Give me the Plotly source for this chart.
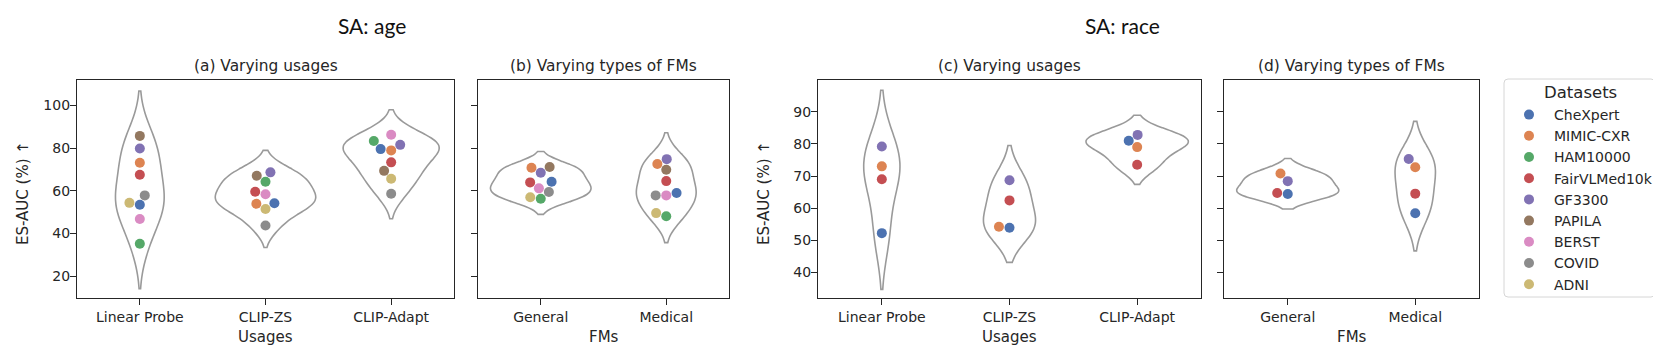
import numpy as np
import plotly.graph_objects as go

W, H = 1661, 364
OFF = 8  # the html page puts the plot 8px in from the top-left corner

datasets = ["CheXpert", "MIMIC-CXR", "HAM10000", "FairVLMed10k", "GF3300",
            "PAPILA", "BERST", "COVID", "ADNI"]
colors = ["#4C72B0", "#DD8452", "#55A868", "#C44E52", "#8172B3",
          "#937860", "#DA8BC3", "#8C8C8C", "#CCB974"]

usages = ["Linear Probe", "CLIP-ZS", "CLIP-Adapt"]
fm_types = ["General", "Medical"]

# SA: age (values follow the order of `datasets`)
age_linear_probe = [53.4, 73.1, 35.1, 67.5, 79.8, 85.7, 46.7, 57.8, 54.3]
age_clip_zs = [54.1, 53.9, 64.2, 59.5, 68.6, 67.0, 58.3, 43.7, 51.4]
age_clip_adapt = [79.5, 78.9, 83.3, 73.3, 81.5, 69.3, 86.2, 58.6, 65.6]
age_general = [64.2, 70.8, 56.2, 63.9, 68.4, 71.1, 61.1, 59.4, 56.9]
age_medical = [58.9, 72.5, 48.0, 64.5, 74.8, 69.8, 57.8, 57.8, 49.5]

# SA: race
race_datasets = ["CheXpert", "MIMIC-CXR", "FairVLMed10k", "GF3300"]
race_linear_probe = [52.2, 73.0, 69.0, 79.2]
race_clip_zs = [53.9, 54.2, 62.4, 68.7]
race_clip_adapt = [81.0, 79.0, 73.5, 82.8]
race_general = [64.4, 70.8, 64.7, 68.4]
race_medical = [58.4, 72.7, 64.5, 75.3]

age_ticks = [20, 40, 60, 80, 100]
race_ticks = [40, 50, 60, 70, 80, 90]

# layout in (window) pixels
PLOT_TOP, PLOT_BOTTOM = 80, 298
FONT = "DejaVu Sans"
INK = "#262626"
DOT = 10
SEP = 10.6  # min centre distance between swarm dots (px)


def px(x):
    return (x - OFF) / W


def py(y):
    return 1 - (y - OFF) / H


def swarm_offsets(values, px_per_unit, d=SEP):
    """beeswarm placement (pixel offsets), same idea as seaborn's swarmplot"""
    y = np.asarray(values, dtype=float) * px_per_unit
    order = np.argsort(y, kind="stable")
    placed = []
    xs = np.zeros(len(y))
    for idx in order:
        yi = y[idx]
        nb = []
        for xj, yj in reversed(placed):
            if yi - yj < d:
                nb.append((xj, yj))
            else:
                break
        nb = nb[::-1]
        cands = [0.0]
        left_first = True
        for xj, yj in nb:
            dx = np.sqrt(max(d ** 2 - (yi - yj) ** 2, 0.05))
            pair = [xj - dx, xj + dx] if left_first else [xj + dx, xj - dx]
            cands.extend(pair)
            left_first = not left_first
        cands.sort(key=abs)
        xi = cands[-1]
        for c in cands:
            if all((c - xj) ** 2 + (yi - yj) ** 2 >= d ** 2 - 1e-6 for xj, yj in nb):
                xi = c
                break
        placed.append((xi, yi))
        xs[idx] = xi
    return xs


def kde_bw(vals):
    v = np.asarray(vals, dtype=float)
    return v.std(ddof=1) * len(v) ** (-0.2)


def kde_max(vals):
    v = np.asarray(vals, dtype=float)
    bw = kde_bw(v)
    grid = np.linspace(v.min() - 2 * bw, v.max() + 2 * bw, 400)
    dens = np.exp(-0.5 * ((grid[:, None] - v[None, :]) / bw) ** 2).sum(1)
    return dens.max() / (len(v) * bw * np.sqrt(2 * np.pi))


panels = [
    dict(key="", x0=77, x1=454, cats=usages, names=datasets,
         data=[age_linear_probe, age_clip_zs, age_clip_adapt],
         yrange=[9.7, 111.9], ticks=age_ticks, labels=True,
         title="(a) Varying usages", xlabel="Usages"),
    dict(key="2", x0=478, x1=729, cats=fm_types, names=datasets,
         data=[age_general, age_medical],
         yrange=[9.7, 111.9], ticks=age_ticks, labels=False,
         title="(b) Varying types of FMs", xlabel="FMs"),
    dict(key="3", x0=818, x1=1201, cats=usages, names=race_datasets,
         data=[race_linear_probe, race_clip_zs, race_clip_adapt],
         yrange=[32.0, 99.9], ticks=race_ticks, labels=True,
         title="(c) Varying usages", xlabel="Usages"),
    dict(key="4", x0=1224, x1=1479, cats=fm_types, names=race_datasets,
         data=[race_general, race_medical],
         yrange=[32.0, 99.9], ticks=race_ticks, labels=False,
         title="(d) Varying types of FMs", xlabel="FMs"),
]

fig = go.Figure()
layout = dict(
    width=W, height=H, autosize=False,
    margin=dict(l=0, r=0, t=0, b=0, autoexpand=False),
    paper_bgcolor="white", plot_bgcolor="white",
    violinmode="overlay",
    font=dict(family=FONT, size=14, color=INK),
    showlegend=True,
    legend=dict(
        x=px(1504), y=py(99), xanchor="left", yanchor="top",
        bgcolor="rgba(0,0,0,0)", borderwidth=0,
        font=dict(family=FONT, size=14, color=INK),
        traceorder="normal", itemwidth=40,
    ),
)
annotations = []

for p_i, p in enumerate(panels):
    k = p["key"]
    xa, ya = "x" + k, "y" + k
    ncat = len(p["cats"])
    px_x = (p["x1"] - p["x0"]) / ncat
    px_y = (PLOT_BOTTOM - PLOT_TOP) / (p["yrange"][1] - p["yrange"][0])

    # violins: Scott bandwidth, cut=2, same density scale inside a panel
    peaks = [kde_max(v) for v in p["data"]]
    for i, vals in enumerate(p["data"]):
        fig.add_trace(go.Violin(
            y=vals, x0=i, width=0.8 * peaks[i] / max(peaks),
            bandwidth=kde_bw(vals), spanmode="soft",
            line=dict(color="#9a9a9a", width=1.6),
            fillcolor="rgba(0,0,0,0)", points=False, hoverinfo="skip",
            scalemode="width", showlegend=False, xaxis=xa, yaxis=ya,
        ))

    # swarm points
    xs_by_name = {n: [] for n in p["names"]}
    ys_by_name = {n: [] for n in p["names"]}
    for i, vals in enumerate(p["data"]):
        offs = swarm_offsets(vals, px_y)
        for n, val, off in zip(p["names"], vals, offs):
            xs_by_name[n].append(i + off / px_x)
            ys_by_name[n].append(val)
    for n in p["names"]:
        c = colors[datasets.index(n)]
        fig.add_trace(go.Scatter(
            x=xs_by_name[n], y=ys_by_name[n], mode="markers", name=n,
            marker=dict(color=c, size=DOT, line=dict(width=0)),
            showlegend=(p_i == 0),
            xaxis=xa, yaxis=ya,
        ))

    axis_common = dict(
        showline=True, mirror=True, linecolor=INK, linewidth=1.3,
        ticks="outside", ticklen=6, tickwidth=1.3, tickcolor=INK,
        showgrid=False, zeroline=False, automargin=False,
        tickfont=dict(family=FONT, size=14, color=INK),
    )
    layout["xaxis" + k] = dict(
        domain=[px(p["x0"]), px(p["x1"])], anchor=ya,
        range=[-0.5, ncat - 0.5], tickvals=list(range(ncat)),
        ticktext=p["cats"], ticklabelstandoff=0, **axis_common,
    )
    layout["yaxis" + k] = dict(
        domain=[py(PLOT_BOTTOM), py(PLOT_TOP)], anchor=xa,
        range=p["yrange"], tickvals=p["ticks"], ticklabelstandoff=-3,
        showticklabels=p["labels"], **axis_common,
    )

    xc = px((p["x0"] + p["x1"]) / 2)
    annotations.append(dict(
        text=p["title"], x=xc, y=py(66), xref="paper", yref="paper",
        xanchor="center", yanchor="middle", showarrow=False,
        font=dict(family=FONT, size=15.4, color=INK),
    ))
    annotations.append(dict(
        text=p["xlabel"], x=xc, y=py(337), xref="paper", yref="paper",
        xanchor="center", yanchor="middle", showarrow=False,
        font=dict(family=FONT, size=15, color=INK),
    ))
    if p["labels"]:
        annotations.append(dict(
            text="ES-AUC (%) ↑", x=px(p["x0"] - 54), y=py(193),
            xref="paper", yref="paper", textangle=-90,
            xanchor="center", yanchor="middle", showarrow=False,
            font=dict(family=FONT, size=15, color=INK),
        ))

for text, cx in [("SA: age", 372), ("SA: race", 1122)]:
    annotations.append(dict(
        text=text, x=px(cx), y=py(25), xref="paper", yref="paper",
        xanchor="center", yanchor="middle", showarrow=False,
        font=dict(family="Lato", size=21, color="#111111"),
    ))

# legend frame and title
annotations.append(dict(
    text="Datasets", x=px(1580), y=py(92), xref="paper", yref="paper",
    xanchor="center", yanchor="middle", showarrow=False,
    font=dict(family=FONT, size=16.5, color=INK),
))
bx0, bx1, by0, by1 = px(1504), px(1655), py(297), py(79)
rx, ry = 4 / W, 4 / H
frame = (f"M {bx0 + rx} {by0} L {bx1 - rx} {by0} Q {bx1} {by0} {bx1} {by0 + ry} "
         f"L {bx1} {by1 - ry} Q {bx1} {by1} {bx1 - rx} {by1} "
         f"L {bx0 + rx} {by1} Q {bx0} {by1} {bx0} {by1 - ry} "
         f"L {bx0} {by0 + ry} Q {bx0} {by0} {bx0 + rx} {by0} Z")
layout["shapes"] = [dict(type="path", path=frame, xref="paper", yref="paper",
                         line=dict(color="#d6d6d6", width=1), fillcolor="white",
                         layer="below")]

layout["annotations"] = annotations
fig.update_layout(**layout)
fig.write_html("out.html")
